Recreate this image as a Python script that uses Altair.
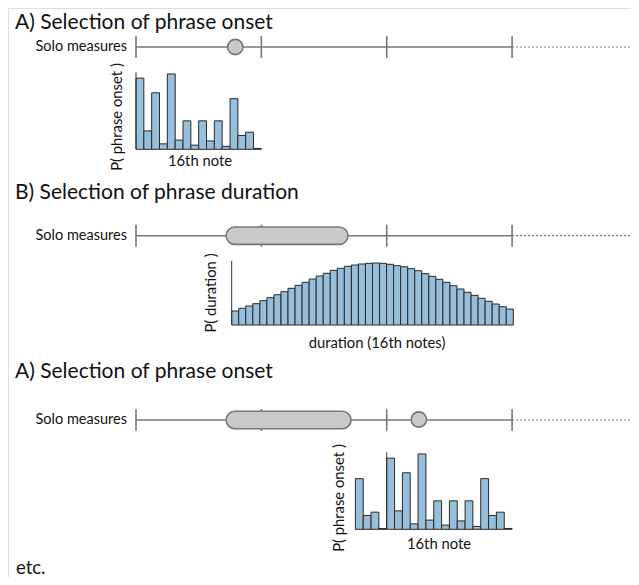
import altair as alt
import pandas as pd

# ---------------- data ----------------
# P(phrase onset) for each 16th-note position of a measure
ONSET_P = [0.170, 0.044, 0.135, 0.013, 0.180, 0.022, 0.068, 0.010,
           0.068, 0.020, 0.068, 0.007, 0.121, 0.033, 0.041, 0.002]
# relative P(duration) for 40 duration bins
DURATION_REL = [14.0, 16.7, 19.0, 21.3, 24.3, 27.3, 30.3, 33.3, 36.7, 39.7,
                42.7, 46.0, 49.0, 51.7, 54.7, 56.7, 58.7, 60.0, 61.0, 61.7,
                62.0, 61.7, 60.7, 59.3, 58.3, 56.3, 54.3, 51.3, 48.7, 45.7,
                42.7, 39.3, 36.0, 32.7, 29.7, 26.7, 23.7, 21.0, 18.3, 16.0]
MEASURES = [0, 1, 2, 3]          # measure bar lines
SIXTEENTHS = 16                  # 16th notes per measure
ONSET_A = 12.67                  # sampled onset (16ths), first step
PHRASE = (11.5, 27.05)           # selected phrase (16ths), section B
PHRASE_C = (11.5, 27.45)         # selected phrase (16ths), section C
ONSET_C = 36.1                   # next sampled onset (16ths)
HIST3_POS = list(range(28, 48))  # 16th positions shown in third histogram

TITLES = ["A) Selection of phrase onset", "B) Selection of phrase duration",
          "A) Selection of phrase onset"]

# ---------------- layout ----------------
PX16 = 7.835
X0 = 136.0
def u(px):
    return (px - X0) / PX16

LINE_Y = [47.0, 235.7, 420.0]
TITLE_Y = [22.5, 193.0, 372.0]
GREY = "#777777"
FILL = "#97bedb"
FONT = "Lato"
LAB = 14.8

x_scale = alt.Scale(domain=[u(8), u(631)], nice=False, zero=False)
y_scale = alt.Scale(domain=[8, 577], nice=False, zero=False, reverse=True)
X = lambda f: alt.X(f + ":Q", scale=x_scale, axis=None)
Y = lambda f: alt.Y(f + ":Q", scale=y_scale, axis=None)

# measure lines
mline = pd.DataFrame([{"x": 0, "x2": SIXTEENTHS * MEASURES[-1], "y": y} for y in LINE_Y])
dotted = pd.DataFrame([{"x": SIXTEENTHS * MEASURES[-1], "x2": u(630), "y": y} for y in LINE_Y])
ticks = pd.DataFrame([{"x": m * SIXTEENTHS, "y": y - 11, "y2": y + 11}
                      for y in LINE_Y for m in MEASURES])
pills = pd.DataFrame([
    {"x": PHRASE[0], "x2": PHRASE[1], "y": LINE_Y[1] - 8.7, "y2": LINE_Y[1] + 8.7},
    {"x": PHRASE_C[0], "x2": PHRASE_C[1], "y": LINE_Y[2] - 8.7, "y2": LINE_Y[2] + 8.7},
])
circles = pd.DataFrame([{"x": ONSET_A, "y": LINE_Y[0]}, {"x": ONSET_C, "y": LINE_Y[2] - 0.5}])

# histograms
ONSET_PX = 418.5
bars = []
B1 = 149.3
for i, p in enumerate(ONSET_P):
    bars.append({"x": i, "x2": i + 1, "y": B1, "y2": B1 - p * ONSET_PX})
B3 = 529.3
for pos in HIST3_POS:
    p = ONSET_P[pos % SIXTEENTHS]
    bars.append({"x": pos, "x2": pos + 1, "y": B3, "y2": B3 - p * ONSET_PX})
tot = sum(DURATION_REL)
dur_p = [v / tot for v in DURATION_REL]
DUR_PX = 62.0 / max(dur_p)
B2 = 325.0
D0 = u(231.7)
DW = 7.04 / PX16
for i, p in enumerate(dur_p):
    bars.append({"x": D0 + i * DW, "x2": D0 + (i + 1) * DW, "y": B2, "y2": B2 - p * DUR_PX})
bars = pd.DataFrame(bars)

axes = pd.DataFrame([
    {"x": 0, "y": B1, "y2": B1 - 77},
    {"x": D0, "y": B2, "y2": B2 - 64},
    {"x": 32, "y": B3, "y2": B3 - 77},
])

titles = pd.DataFrame([{"t": t, "x": u(15), "y": y} for t, y in zip(TITLES, TITLE_Y)])
solo = pd.DataFrame([{"t": "Solo measures", "x": u(127), "y": y} for y in LINE_Y])
xlabels = pd.DataFrame([
    {"t": "16th note", "x": u(200), "y": 162},
    {"t": "duration (16th notes)", "x": u(377), "y": 344},
    {"t": "16th note", "x": u(439), "y": 545},
])
ylabels = pd.DataFrame([
    {"t": "P( phrase onset )", "x": u(118), "y": 117},
    {"t": "P( duration )", "x": u(212), "y": 293},
    {"t": "P( phrase onset )", "x": u(340), "y": 498},
])
etc = pd.DataFrame([{"t": "etc.", "x": u(16), "y": 573.5}])

layers = [
    alt.Chart(mline).mark_rule(color=GREY, strokeWidth=1.6).encode(x=X("x"), x2="x2", y=Y("y")),
    alt.Chart(dotted).mark_rule(color=GREY, strokeWidth=1.2, strokeDash=[2, 2]).encode(x=X("x"), x2="x2", y=Y("y")),
    alt.Chart(ticks).mark_rule(color=GREY, strokeWidth=1.6).encode(x=X("x"), y=Y("y"), y2="y2"),
    alt.Chart(pills).mark_rect(fill="#c9c9c9", stroke=GREY, strokeWidth=1.6, cornerRadius=8.7).encode(
        x=X("x"), x2="x2", y=Y("y"), y2="y2"),
    alt.Chart(circles).mark_point(shape="circle", filled=True, size=235, fill="#c9c9c9",
                                  stroke=GREY, strokeWidth=1.6, opacity=1).encode(x=X("x"), y=Y("y")),
    alt.Chart(bars).mark_rect(fill="#9a9a9a", opacity=0.6, xOffset=1, yOffset=-1.2).encode(
        x=X("x"), x2="x2", y=Y("y"), y2="y2"),
    alt.Chart(bars).mark_rect(fill=FILL, stroke="#2a2a2a", strokeWidth=1).encode(
        x=X("x"), x2="x2", y=Y("y"), y2="y2"),
    alt.Chart(axes).mark_rule(color="#333333", strokeWidth=1).encode(x=X("x"), y=Y("y"), y2="y2"),
    alt.Chart(titles).mark_text(align="left", baseline="middle", fontSize=21, font=FONT, color="#111").encode(
        x=X("x"), y=Y("y"), text="t:N"),
    alt.Chart(solo).mark_text(align="right", baseline="middle", fontSize=14.5, font=FONT, color="#111").encode(
        x=X("x"), y=Y("y"), text="t:N"),
    alt.Chart(xlabels).mark_text(align="center", baseline="middle", fontSize=LAB, font=FONT, color="#111").encode(
        x=X("x"), y=Y("y"), text="t:N"),
    alt.Chart(ylabels).mark_text(align="center", baseline="middle", fontSize=LAB, font=FONT, color="#111",
                                 angle=270).encode(x=X("x"), y=Y("y"), text="t:N"),
    alt.Chart(etc).mark_text(align="left", baseline="alphabetic", fontSize=18.5, font=FONT, color="#111").encode(
        x=X("x"), y=Y("y"), text="t:N"),
]

chart = alt.layer(*layers).properties(
    width=623, height=569, padding=0, autosize=alt.AutoSizeParams(type="none")
).configure_view(stroke=None).configure(background="white")

chart.save("out.html", embed_options={"renderer": "svg", "actions": False})
